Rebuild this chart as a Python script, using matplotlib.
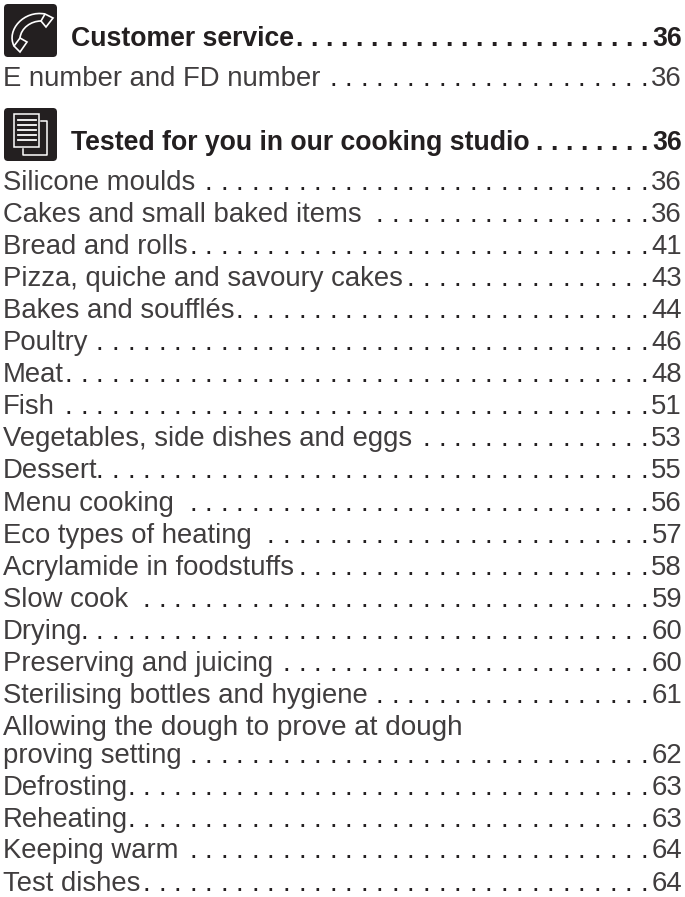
import matplotlib
matplotlib.use("Agg")
import matplotlib.pyplot as plt
from matplotlib.patches import FancyBboxPatch, PathPatch, Polygon, Rectangle
from matplotlib.path import Path

# Table of contents
headings = ["Customer service", "Tested for you in our cooking studio"]
heading_pages = ["36", "36"]
heading_dots = [24, 8]
heading_y = [46, 150]

first_group = ["E number and FD number"]
first_pages = ["36"]
first_dots = [21]
first_y = [86]

entries = [
    "Silicone moulds", "Cakes and small baked items", "Bread and rolls",
    "Pizza, quiche and savoury cakes", "Bakes and soufflés", "Poultry", "Meat",
    "Fish", "Vegetables, side dishes and eggs", "Dessert", "Menu cooking",
    "Eco types of heating", "Acrylamide in foodstuffs", "Slow cook", "Drying",
    "Preserving and juicing", "Sterilising bottles and hygiene",
    "proving setting", "Defrosting", "Reheating", "Keeping warm", "Test dishes",
]
entry_pages = ["36", "36", "41", "43", "44", "46", "48", "51", "53", "55", "56",
               "57", "58", "59", "60", "60", "61", "62", "63", "63", "64", "64"]
# leader dots counted on each row
entry_dots = [29, 18, 30, 16, 27, 36, 38, 38, 15, 36, 30,
              25, 23, 33, 37, 24, 18, 30, 34, 34, 30, 33]
entry_y = [190, 222, 254, 286, 318, 350, 382, 414, 446, 478, 511, 543, 575, 607,
           639, 671, 703, 763, 795, 827, 858, 891]

wrapped_line = "Allowing the dough to prove at dough"
wrapped_y = 735

INK = "#231f20"
LIGHT_INK = "#403d3e"
FONT = "Liberation Sans"

fig = plt.figure(figsize=(6.85, 8.97), dpi=100)
ax = fig.add_axes([0, 0, 1, 1])
ax.set_xlim(0, 685)
ax.set_ylim(897, 0)
ax.axis("off")


def draw_row(label, page, dots, y, x0, size, weight, color, step):
    ax.text(x0, y, label, fontsize=size, fontweight=weight, color=color,
            family=FONT, va="baseline", ha="left")
    ax.text(682, y, page, fontsize=size, fontweight=weight, color=color,
            family=FONT, va="baseline", ha="right")
    for k in range(dots):
        ax.text(644 - k * step, y, ".", fontsize=size, fontweight=weight, color=INK,
                family=FONT, va="baseline", ha="center")


for label, page, dots, y in zip(headings, heading_pages, heading_dots, heading_y):
    draw_row(label, page, dots, y, 71, 19.2, "bold", INK, 15)

for label, page, dots, y in zip(first_group + entries, first_pages + entry_pages,
                                first_dots + entry_dots, first_y + entry_y):
    draw_row(label, page, dots, y, 3, 19.8, "normal", LIGHT_INK, 15.55)

ax.text(3, wrapped_y, wrapped_line, fontsize=20.1, color=LIGHT_INK, family=FONT, va="baseline")

# icon boxes
for top in [4, 108]:
    ax.add_patch(FancyBboxPatch((7, top + 3), 47, 47, boxstyle="round,pad=3,rounding_size=4",
                                fc=INK, ec="none"))

# phone icon
handset = Path(
    [(14, 46), (6, 30), (24, 10), (45, 14), (41, 21), (31, 21), (21, 28), (20, 38)],
    [Path.MOVETO, Path.CURVE4, Path.CURVE4, Path.CURVE4,
     Path.MOVETO, Path.CURVE4, Path.CURVE4, Path.CURVE4],
)
ax.add_patch(PathPatch(handset, fc="none", ec="white", lw=1.2))
ax.add_patch(Polygon([(41, 21), (45, 14), (53, 18), (46, 27)], fc="none", ec="white", lw=1.2))
ax.add_patch(Polygon([(14, 46), (20, 38), (27, 42), (20, 52)], fc="none", ec="white", lw=1.2))

# document icon
ax.add_patch(Rectangle((14, 114), 25, 33, fc="none", ec="white", lw=1.1))
for ly in [120, 125, 130, 135, 140]:
    ax.plot([18, 36], [ly, ly], color="white", lw=1.3)
ax.plot([41, 47, 47, 23, 23], [121, 121, 155, 155, 149], color="white", lw=1.1)

fig.savefig("out.png", dpi=100)
